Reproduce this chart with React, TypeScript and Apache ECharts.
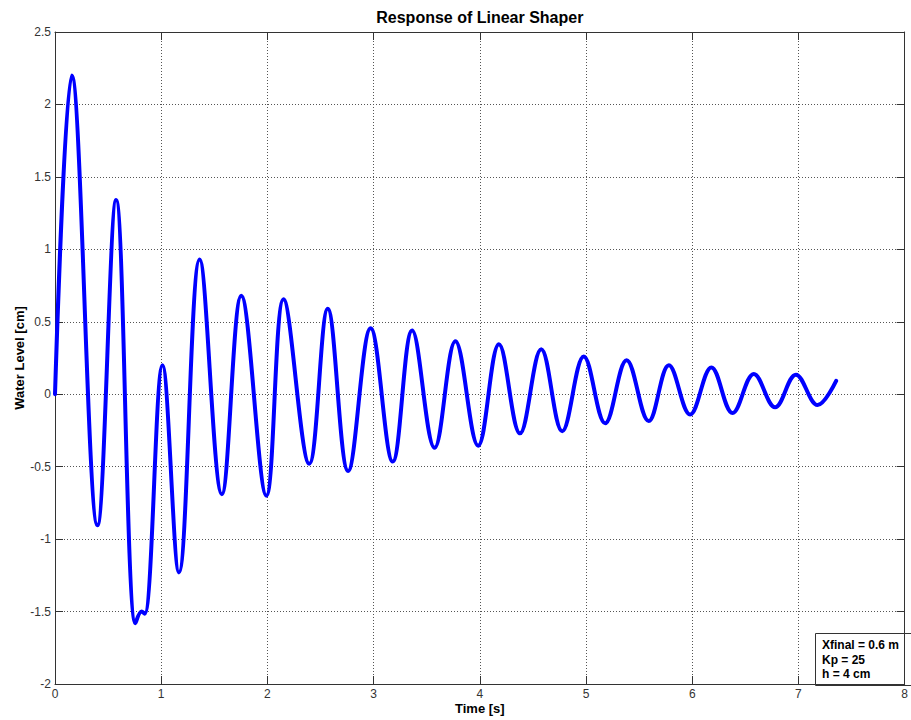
import React, { useEffect, useRef } from "react";
import * as echarts from "echarts";

// Simulated water level response: turning points of the trace (time in s, level in cm)
const timeS = [
  0.0, 0.157, 0.4, 0.575, 0.758, 0.815, 0.845, 1.012, 1.167, 1.362, 1.571,
  1.754, 1.99, 2.152, 2.394, 2.568, 2.76, 2.972, 3.18, 3.363, 3.574, 3.77, 3.984,
  4.18, 4.378, 4.578, 4.776, 4.979, 5.18, 5.382, 5.59, 5.78, 5.98, 6.18, 6.38,
  6.58, 6.78, 6.976, 7.18, 7.355,
];
const levelCm = [
  0.0, 2.2, -0.905, 1.34, -1.58, -1.5, -1.515, 0.2, -1.23, 0.93, -0.69,
  0.68, -0.7, 0.655, -0.48, 0.59, -0.53, 0.455, -0.465, 0.44, -0.37, 0.365, -0.355,
  0.345, -0.27, 0.31, -0.255, 0.26, -0.2, 0.235, -0.185, 0.2, -0.14, 0.185, -0.13,
  0.14, -0.09, 0.135, -0.075, 0.092,
];

const chartTitle = "Response of Linear Shaper";
const xName = "Time [s]";
const yName = "Water Level [cm]";
const noteLines = ["Xfinal = 0.6 m", "Kp = 25", "h = 4 cm"];

const FONT = "Liberation Sans, Arial, Helvetica, sans-serif";
const AXIS_COLOR = "#333333";
const GRID_STYLE = { color: "#555555", width: 1, type: [1, 2] as number[] };

export default function App() {
  const ref = useRef<HTMLDivElement>(null);

  useEffect(() => {
    if (!ref.current) return;
    const chart = echarts.init(ref.current, undefined, { renderer: "svg" });

    const points = timeS.map((t, i) => [t, levelCm[i]]);

    const tickCommon = {
      show: true,
      inside: true,
      length: 8,
      lineStyle: { color: AXIS_COLOR, width: 1 },
    };
    const lineCommon = { show: true, onZero: false, lineStyle: { color: AXIS_COLOR, width: 1 } };
    const tickLabel = { color: "#333", fontSize: 12, fontFamily: FONT };

    chart.setOption({
      animation: false,
      backgroundColor: "#ffffff",
      grid: { left: 55, right: -2, top: 32, bottom: 35, containLabel: false },
      xAxis: [
        {
          type: "value",
          position: "bottom",
          min: 0,
          max: 8,
          interval: 1,
          axisLine: lineCommon,
          axisTick: tickCommon,
          axisLabel: { ...tickLabel, margin: 4 },
          splitLine: { show: true, lineStyle: GRID_STYLE },
          name: xName,
          nameLocation: "middle",
          nameGap: 18,
          nameMoveOverlap: false,
          nameTextStyle: { fontWeight: "bold", fontSize: 13, color: "#000", fontFamily: FONT },
        },
        {
          type: "value",
          position: "top",
          min: 0,
          max: 8,
          interval: 1,
          axisLine: lineCommon,
          axisTick: tickCommon,
          axisLabel: { show: false },
          splitLine: { show: false },
          name: chartTitle,
          nameLocation: "middle",
          nameGap: 7,
          nameTextStyle: { fontWeight: "bold", fontSize: 16, color: "#000", fontFamily: FONT },
        },
      ],
      yAxis: [
        {
          type: "value",
          position: "left",
          min: -2,
          max: 2.5,
          interval: 0.5,
          axisLine: lineCommon,
          axisTick: tickCommon,
          axisLabel: { ...tickLabel, margin: 4 },
          splitLine: { show: true, lineStyle: GRID_STYLE },
          name: yName,
          nameLocation: "middle",
          nameGap: 29,
          nameMoveOverlap: false,
          nameTextStyle: { fontWeight: "bold", fontSize: 13, color: "#000", fontFamily: FONT },
        },
        {
          type: "value",
          position: "right",
          min: -2,
          max: 2.5,
          interval: 0.5,
          axisLine: lineCommon,
          axisTick: tickCommon,
          axisLabel: { show: false },
          splitLine: { show: false },
        },
      ],
      series: [
        {
          type: "line",
          data: points,
          xAxisIndex: 0,
          yAxisIndex: 0,
          showSymbol: false,
          smooth: 0.38,
          lineStyle: { color: "#0000ff", width: 4, cap: "round", join: "round" },
          z: 3,
        },
      ],
      graphic: [
        {
          type: "group",
          z: 100,
          children: [
            {
              type: "rect",
              shape: { x: 815.5, y: 633.5, width: 110, height: 52 },
              style: { fill: "#ffffff", stroke: AXIS_COLOR, lineWidth: 1 },
            },
            ...noteLines.map((line, i) => ({
              type: "text",
              x: 822,
              y: 645 + i * 14.7,
              style: {
                text: line,
                font: `bold 12px ${FONT}`,
                fill: "#000",
                textAlign: "left",
                textVerticalAlign: "middle",
              },
            })),
          ],
        },
      ],
    });

    return () => chart.dispose();
  }, []);

  return (
    <div
      ref={ref}
      style={{ position: "fixed", left: 0, top: 0, width: 911, height: 720, background: "#fff" }}
    />
  );
}
